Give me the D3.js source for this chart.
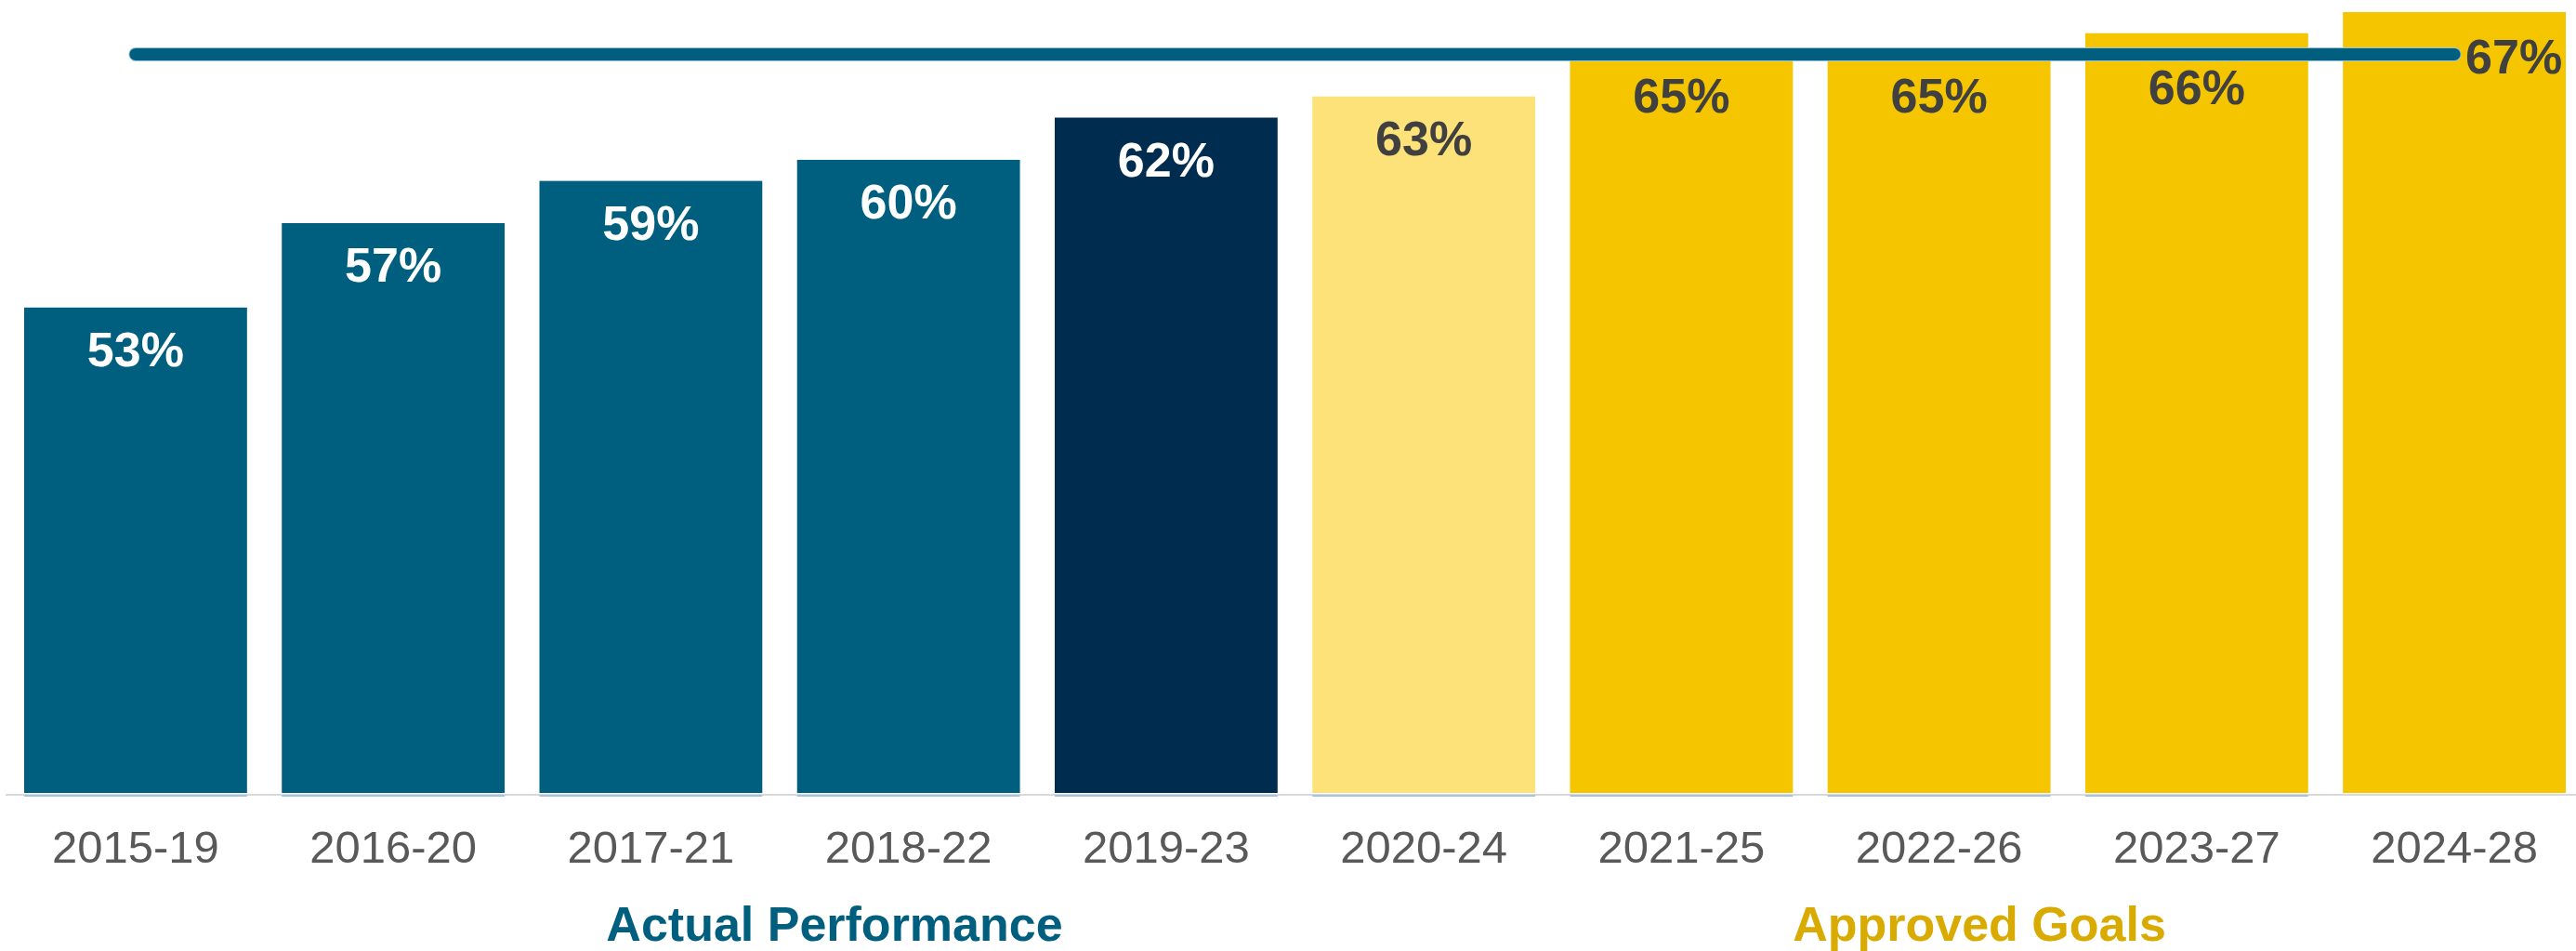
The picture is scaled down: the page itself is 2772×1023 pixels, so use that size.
<!DOCTYPE html>
<html>
<head>
<meta charset="utf-8">
<script src="https://cdn.jsdelivr.net/npm/d3@7"></script>
<style>
  html, body { margin: 0; padding: 0; background: #fff; }
  svg { display: block; font-family: 'Liberation Sans', Arial, sans-serif; }
</style>
</head>
<body>
<div id="chart"></div>
<script>
const periods = ['2015-19', '2016-20', '2017-21', '2018-22', '2019-23', '2020-24', '2021-25', '2022-26', '2023-27', '2024-28']
const rates = [53, 57, 59, 60, 62, 63, 65, 65, 66, 67]
const kinds = ['actual', 'actual', 'actual', 'actual', 'latest', 'pending', 'goal', 'goal', 'goal', 'goal']
const goalLine = 65
const groups = [
  { label: 'Actual Performance', kind: 'actual', cx: 898 },
  { label: 'Approved Goals', kind: 'goal', cx: 2130 }
]

const fills = { actual: '#005f7f', latest: '#002d4f', pending: '#fde27a', goal: '#f5c600' }
const labelFills = { actual: '#ffffff', latest: '#ffffff', pending: '#404040', goal: '#404040' }
const groupFills = { actual: '#005f7f', goal: '#d9aa00' }

const width = 2772
const height = 1023
const baseY = 853

const svg = d3.select('#chart')
  .append('svg')
  .attr('width', width)
  .attr('height', height)

const x = d3.scaleBand()
  .domain(periods)
  .range([26, 2761])
  .paddingInner(0.135)
  .paddingOuter(0)

const y = d3.scaleLinear()
  .domain([30, 67])
  .range([baseY, 13])

const data = periods.map((p, i) => ({ period: p, value: rates[i], kind: kinds[i] }))

// baseline
svg.append('line')
  .attr('x1', 6)
  .attr('x2', width)
  .attr('y1', baseY + 2)
  .attr('y2', baseY + 2)
  .attr('stroke', '#d9d9d9')
  .attr('stroke-width', 2)

svg.selectAll('.bar')
  .data(data)
  .join('rect')
  .attr('class', 'bar')
  .attr('x', d => x(d.period))
  .attr('y', d => y(d.value))
  .attr('width', x.bandwidth())
  .attr('height', d => y(30) - y(d.value))
  .attr('fill', d => fills[d.kind])

// thin blue underline below the bars
svg.selectAll('.under')
  .data(data.slice(0, -1))
  .join('rect')
  .attr('class', 'under')
  .attr('x', d => x(d.period))
  .attr('y', baseY + 2)
  .attr('width', x.bandwidth())
  .attr('height', 2)
  .attr('fill', '#a6c4e2')

// goal line
const lineX1 = x(periods[0]) + x.bandwidth() / 2
const lineX2 = x(periods[periods.length - 1]) + x.bandwidth() / 2
const lineY = y(goalLine)

svg.append('line')
  .attr('x1', lineX1)
  .attr('x2', lineX2)
  .attr('y1', lineY)
  .attr('y2', lineY)
  .attr('stroke', '#9cc2de')
  .attr('stroke-width', 15)
  .attr('stroke-linecap', 'round')

svg.append('line')
  .attr('x1', lineX1)
  .attr('x2', lineX2)
  .attr('y1', lineY)
  .attr('y2', lineY)
  .attr('stroke', '#005f7f')
  .attr('stroke-width', 13)
  .attr('stroke-linecap', 'round')

// value labels, kept clear of the goal line
const last = data.length - 1
svg.selectAll('.value')
  .data(data)
  .join('text')
  .attr('class', 'value')
  .attr('x', (d, i) => i === last ? lineX2 + 12 : x(d.period) + x.bandwidth() / 2)
  .attr('y', (d, i) => i === last ? lineY + 21 : Math.max(y(d.value) + 63, lineY + 54))
  .attr('text-anchor', (d, i) => i === last ? 'start' : 'middle')
  .attr('font-size', 52)
  .attr('font-weight', 'bold')
  .attr('fill', d => labelFills[d.kind])
  .text(d => d.value + '%')

// category labels
svg.selectAll('.cat')
  .data(data)
  .join('text')
  .attr('class', 'cat')
  .attr('x', d => x(d.period) + x.bandwidth() / 2)
  .attr('y', 928)
  .attr('text-anchor', 'middle')
  .attr('font-size', 49)
  .attr('fill', '#595959')
  .text(d => d.period)

// group labels
svg.selectAll('.group')
  .data(groups)
  .join('text')
  .attr('class', 'group')
  .attr('x', d => d.cx)
  .attr('y', 1012)
  .attr('text-anchor', 'middle')
  .attr('font-size', 52)
  .attr('font-weight', 'bold')
  .attr('fill', d => groupFills[d.kind])
  .text(d => d.label)
</script>
</body>
</html>
